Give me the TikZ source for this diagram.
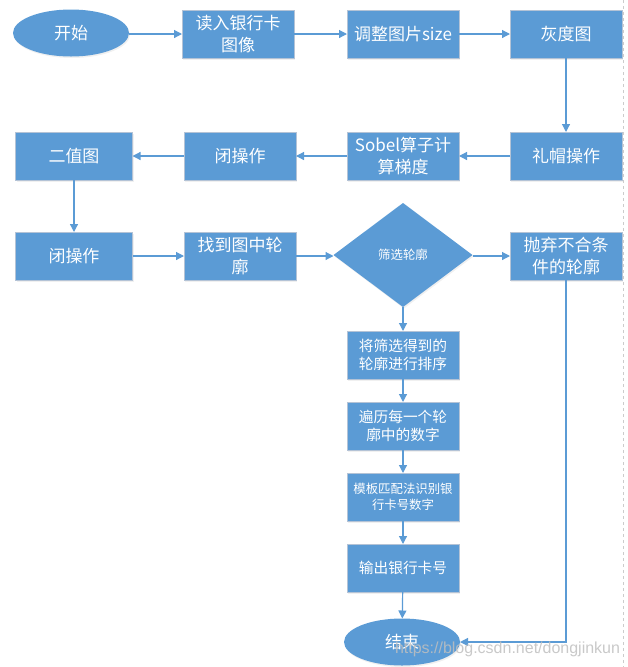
\documentclass[tikz,border=0pt]{standalone}
\usepackage{fontspec}
\newfontfamily\cjk{Noto Sans CJK SC}
\newfontfamily\wmfont{Liberation Sans}
\usetikzlibrary{shapes.geometric,arrows.meta,shadows,calc}
\definecolor{boxblue}{HTML}{5B9BD5}
\definecolor{boxedge}{HTML}{B4C3D6}
\definecolor{lineblue}{HTML}{5B9BD5}
\tikzset{
  every node/.style={inner sep=0pt, outer sep=0pt},
  shape base/.style={fill=boxblue, draw=boxedge, line width=0.8pt, text=white, align=center,
    drop shadow={opacity=0.12, shadow xshift=1pt, shadow yshift=-1.5pt}},
  stepbox/.style={shape base, rectangle, minimum width=112pt, minimum height=48pt,
    font=\cjk\fontsize{17}{22}\selectfont},
  widebox/.style={stepbox, minimum width=117pt},
  midbox/.style={stepbox, font=\cjk\fontsize{14.7}{18}\selectfont},
  smallbox/.style={stepbox, font=\cjk\fontsize{12.4}{16}\selectfont},
  terminal/.style={shape base, ellipse, draw=none, minimum width=116pt, minimum height=47pt,
    font=\cjk\fontsize{17}{22}\selectfont},
  decision/.style={shape base, diamond, draw=none, minimum width=139pt, minimum height=104pt,
    font=\cjk\fontsize{12.4}{16}\selectfont},
  flow/.style={draw=lineblue, line width=1.2pt, -{Triangle[length=8pt,width=8pt]}},
}
\begin{document}
\begin{tikzpicture}[x=1pt,y=-1pt]
\useasboundingbox (0,0) rectangle (628,667);
\draw[gray!40, dashed, line width=0.8pt] (623.5,0) -- (623.5,667);
% row 1
\node[terminal] (start) at (71,33) {开始};
\node[stepbox] (read) at (238,34) {读入银行卡\\图像};
\node[stepbox] (resize) at (403,34) {调整图片size};
\node[stepbox] (gray) at (566,34) {灰度图};
% row 2
\node[stepbox] (tophat) at (566,156) {礼帽操作};
\node[stepbox] (sobel) at (403,156) {Sobel算子计\\算梯度};
\node[stepbox] (close1) at (240,156) {闭操作};
\node[widebox] (binary) at (74,156) {二值图};
% row 3
\node[widebox] (close2) at (74,256) {闭操作};
\node[stepbox] (find) at (240,256) {找到图中轮\\廓};
\node[decision] (filter) at (403,255) {筛选轮廓};
\node[stepbox] (discard) at (566,256) {抛弃不合条\\件的轮廓};
% column
\node[midbox] (sort) at (403,355) {将筛选得到的\\轮廓进行排序};
\node[midbox] (iter) at (403,426) {遍历每一个轮\\廓中的数字};
\node[smallbox] (match) at (403,497) {模板匹配法识别银\\行卡号数字};
\node[midbox] (out) at (403,568) {输出银行卡号};
\node[terminal] (stop) at (402,642) {结束};
% connectors
\draw[flow] (start.east |- read.west) -- (read.west);
\draw[flow] (read) -- (resize);
\draw[flow] (resize) -- (gray);
\draw[flow] (gray) -- (tophat);
\draw[flow] (tophat) -- (sobel);
\draw[flow] (sobel) -- (close1);
\draw[flow] (close1) -- (binary);
\draw[flow] (binary) -- (close2);
\draw[flow] (close2) -- (find);
\draw[flow] (find) -- (filter.west |- find.east);
\draw[flow] (filter.east |- discard.west) -- (discard.west);
\draw[flow] (filter) -- (sort);
\draw[flow] (sort) -- (iter);
\draw[flow] (iter) -- (match);
\draw[flow] (match) -- (out);
\draw[flow] (out) -- (stop);
\draw[flow] (discard.south) |- (stop.east);
% watermark
\node[anchor=base west, text=black!25, opacity=0.85, font=\wmfont\fontsize{16}{16}\selectfont] (wm) at (395,653) {https://blog.csdn.net/dongjinkun};
\end{tikzpicture}
\end{document}
